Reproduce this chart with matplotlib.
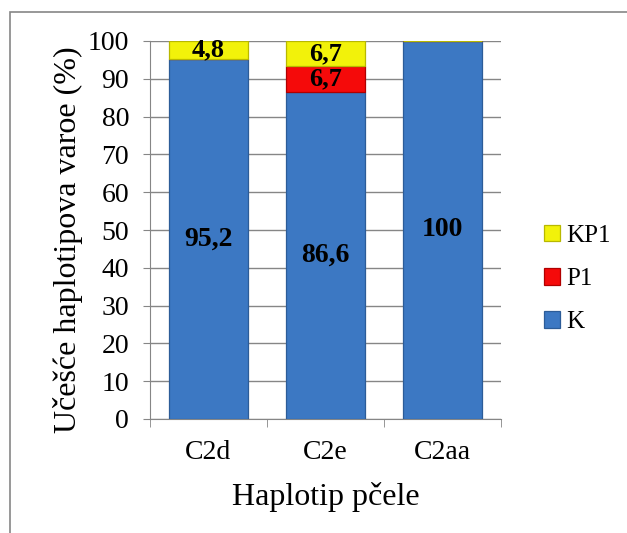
import matplotlib
matplotlib.use("Agg")
import matplotlib.pyplot as plt
from matplotlib.patches import Rectangle
import numpy as np

categories = ["C2d", "C2e", "C2aa"]
K = [95.2, 86.6, 100.0]
P1 = [0.0, 6.7, 0.0]
KP1 = [4.8, 6.7, 0.0]
series = [("K", K, "#3c78c3"), ("P1", P1, "#f50a0a"), ("KP1", KP1, "#f2f20a")]
edge = {"K": "#2c5c98", "P1": "#b00000", "KP1": "#b8b800"}

plt.rcParams['font.family'] = ['Liberation Serif', 'DejaVu Serif']
fig = plt.figure(figsize=(6.27, 5.33), dpi=100)
ax = fig.add_axes([150/627, 1-419/533, 351/627, 378/533])

x = np.arange(len(categories))
bottom = np.zeros(len(categories))
for name, vals, col in series:
    vals = np.array(vals)
    ax.bar(x, vals, 0.68, bottom=bottom, color=col, edgecolor=edge[name], linewidth=0.9, zorder=3, label=name)
    for xi, b, v in zip(x, bottom, vals):
        if v > 0:
            lab = ("%g" % v).replace(".", ",")
            fs = 20 if v > 20 else 19
            ax.text(xi, b + v/2, lab, ha="center", va="center", fontsize=fs, fontweight="bold", zorder=4)
    bottom += vals

ax.set_xlim(-0.5, 2.5)
ax.set_ylim(0, 100)
ax.set_yticks(range(0, 101, 10))
ax.yaxis.grid(True, color="#868686", linewidth=1, zorder=0)
ax.set_axisbelow(True)
for s in ["top", "right"]:
    ax.spines[s].set_visible(False)
ax.spines["left"].set_color("#868686")
ax.spines["bottom"].set_color("#868686")
ax.set_xticks(x)
ax.set_xticklabels(categories)
ax.tick_params(axis="both", labelsize=20, color="#868686", length=5)
ax.tick_params(axis="y", pad=10)
ax.tick_params(axis="x", length=0, pad=15)
ax.set_xticks([-0.5, 0.5, 1.5, 2.5], minor=True)
ax.tick_params(axis="x", which="minor", length=6, color="#868686")
ax.set_ylabel("Učešće haplotipova varoe (%)", fontsize=23, labelpad=8)
ax.yaxis.set_label_coords(-0.19, 0.475)
ax.set_xlabel("Haplotip pčele", fontsize=23, labelpad=12)

h, l = ax.get_legend_handles_labels()
leg = fig.legend(h[::-1], l[::-1], loc="center left", bbox_to_anchor=(521/627, 1-279/533), frameon=False,
                 fontsize=18, handlelength=0.64, handleheight=0.64, labelspacing=0.85, handletextpad=0.25)

# outer frame
fig.patches.append(Rectangle((10/627, -0.1), 1.1, 1 - 12/533 + 0.1, transform=fig.transFigure,
                             fill=False, edgecolor="#868686", linewidth=1.2))
fig.savefig("out.png", dpi=100)
